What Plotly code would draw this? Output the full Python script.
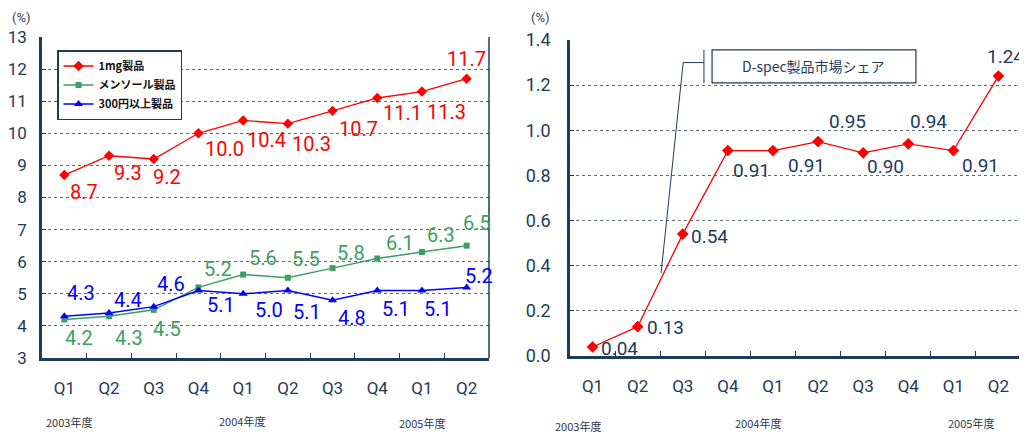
import plotly.graph_objects as go

# ---------------- data ----------------
quarters = ["Q1", "Q2", "Q3", "Q4", "Q1", "Q2", "Q3", "Q4", "Q1", "Q2"]
fiscal_years = ["2003年度", "2004年度", "2005年度"]
fiscal_year_start = [0, 4, 8]          # index of first quarter for each fiscal year

series_names = ["1mg製品", "メンソール製品", "300円以上製品"]
mg1 = [8.7, 9.3, 9.2, 10.0, 10.4, 10.3, 10.7, 11.1, 11.3, 11.7]
menthol = [4.2, 4.3, 4.5, 5.2, 5.6, 5.5, 5.8, 6.1, 6.3, 6.5]
yen300 = [4.3, 4.4, 4.6, 5.1, 5.0, 5.1, 4.8, 5.1, 5.1, 5.2]

dspec_name = "D-spec製品市場シェア"
dspec = [0.04, 0.13, 0.54, 0.91, 0.91, 0.95, 0.90, 0.94, 0.91, 1.24]

left_ticks = [3, 4, 5, 6, 7, 8, 9, 10, 11, 12, 13]
right_ticks = [0.0, 0.2, 0.4, 0.6, 0.8, 1.0, 1.2, 1.4]

# ---------------- layout helpers ----------------
# the page places the figure 8px from the top-left corner of the window
PAGE_OFF = 8
W, H = 1027 - PAGE_OFF, 435 - PAGE_OFF

def fx(px):   # window pixel column -> paper x
    return (px - PAGE_OFF) / W

def fy(py):   # window pixel row -> paper y
    return 1 - (py - PAGE_OFF) / H

NAVY = "#1F3A5A"
GRID = "#5C6B80"
RED = "#FF0000"
GREEN = "#3C9E62"
BLUE = "#0000FF"
NUM_FONT = "Roboto"
CJK_FONT = "Noto Sans CJK JP"

# label offsets in pixels (dx, dy; dy positive = downward)
off_mg1 = [(20, 17), (19, 17), (13, 18), (26, 16), (23, 20), (24, 20), (26, 18), (25, 15), (25, 20), (0, -20)]
off_menthol = [(15, 19), (20, 22), (13, 19), (20, -18), (20, -17), (18, -19), (18, -15), (23, -15), (19, -17), (10, -23)]
off_yen300 = [(17, -23), (19, -13), (17, -23), (23, 14), (26, 16), (19, 21), (19, 18), (19, 18), (16, 18), (12, -11)]
off_dspec = [(27, 2), (28, 1), (27, 2), (24, 20), (34, 15), (29, -20), (22, 14), (20, -22), (27, 15), (7, -20)]

xs = list(range(len(quarters)))

fig = go.Figure()

fig.add_trace(go.Scatter(x=xs, y=mg1, name=series_names[0], mode="lines+markers",
                         line=dict(color=RED, width=1.3),
                         marker=dict(symbol="diamond", size=8, color=RED),
                         xaxis="x", yaxis="y"))
fig.add_trace(go.Scatter(x=xs, y=menthol, name=series_names[1], mode="lines+markers",
                         line=dict(color=GREEN, width=1.5),
                         marker=dict(symbol="square", size=6, color=GREEN),
                         xaxis="x", yaxis="y"))
fig.add_trace(go.Scatter(x=xs, y=yen300, name=series_names[2], mode="lines+markers",
                         line=dict(color=BLUE, width=1.5),
                         marker=dict(symbol="triangle-up", size=8, color=BLUE),
                         xaxis="x", yaxis="y"))
fig.add_trace(go.Scatter(x=xs, y=dspec, name=dspec_name, mode="lines+markers",
                         line=dict(color=RED, width=1.3),
                         marker=dict(symbol="diamond", size=9, color=RED),
                         showlegend=False, xaxis="x2", yaxis="y2"))

annotations = []

def add_labels(vals, offs, color, fmt, xref, yref, size):
    for i, (v, (dx, dy)) in enumerate(zip(vals, offs)):
        annotations.append(dict(x=xs[i], y=v, xref=xref, yref=yref, text=fmt.format(v),
                                showarrow=False, xshift=dx, yshift=-dy,
                                xanchor="center", yanchor="middle",
                                font=dict(family=NUM_FONT, size=size, color=color)))

add_labels(mg1, off_mg1, RED, "{:.1f}", "x", "y", 20)
add_labels(menthol, off_menthol, GREEN, "{:.1f}", "x", "y", 20)
add_labels(yen300, off_yen300, BLUE, "{:.1f}", "x", "y", 20)
add_labels(dspec, off_dspec, NAVY, "{:.2f}", "x2", "y2", 19)

# fiscal-year labels under the axes (window pixel rows)
left_year_shift = [5, -1, 0]
left_year_row = [422, 421, 423]
right_year_shift = [-15, -15, 18]
right_year_row = [426, 423, 423]
for k, fyear in enumerate(fiscal_years):
    annotations.append(dict(x=fiscal_year_start[k], y=fy(left_year_row[k]), xref="x", yref="paper",
                            text=fyear, showarrow=False, xshift=left_year_shift[k],
                            xanchor="center", yanchor="middle",
                            font=dict(family=CJK_FONT, size=11, color="#2E3548")))
    annotations.append(dict(x=fiscal_year_start[k], y=fy(right_year_row[k]), xref="x2", yref="paper",
                            text=fyear, showarrow=False, xshift=right_year_shift[k],
                            xanchor="center", yanchor="middle",
                            font=dict(family=CJK_FONT, size=11, color="#2E3548")))

# (%) unit labels
for cx in (21, 540):
    annotations.append(dict(x=fx(cx), y=fy(8), xref="paper", yref="paper", text="(%)",
                            showarrow=False, xanchor="center", yanchor="top",
                            font=dict(family=NUM_FONT, size=13, color="#3A4556")))

# callout text
annotations.append(dict(x=4.91, y=1.283, xref="x2", yref="y2", text=dspec_name, showarrow=False,
                        xanchor="center", yanchor="middle",
                        font=dict(family=CJK_FONT, size=14, color=NAVY)))

shapes = [
    dict(type="line", xref="x domain", yref="y domain", x0=1, x1=1, y0=0, y1=1,
         line=dict(color=NAVY, width=1.5)),
    dict(type="line", xref="x2 domain", yref="y2 domain", x0=1, x1=1, y0=0, y1=1,
         line=dict(color=NAVY, width=2)),
    dict(type="rect", xref="x2", yref="y2", x0=2.65, x1=7.17, y0=1.21, y1=1.356,
         line=dict(color=NAVY, width=1.2), fillcolor="white"),
    dict(type="line", xref="x2", yref="y2", x0=2.47, x1=2.47, y0=1.21, y1=1.356,
         line=dict(color=NAVY, width=1)),
    dict(type="line", xref="x2", yref="y2", x0=2.47, x1=2.01, y0=1.30, y1=1.30,
         line=dict(color=NAVY, width=1)),
    dict(type="line", xref="x2", yref="y2", x0=2.01, x1=1.52, y0=1.30, y1=0.368,
         line=dict(color=NAVY, width=1)),
]

xaxis_common = dict(range=[-0.5, len(xs) - 0.5], tickmode="array", tickvals=xs, ticktext=quarters,
                    ticks="", showgrid=False, zeroline=False, showline=True,
                    linecolor=NAVY, linewidth=2.5, automargin=False,
                    tickfont=dict(family=NUM_FONT, size=17, color=NAVY),
                    ticklabelstandoff=13,
                    minor=dict(tickvals=[i + 0.5 for i in xs[:-1]], ticks="inside",
                               ticklen=5, tickcolor=NAVY, tickwidth=1, showgrid=False))
yaxis_common = dict(showgrid=True, gridcolor=GRID, griddash="dot", gridwidth=1,
                    zeroline=False, showline=True, linecolor=NAVY, linewidth=2.5,
                    ticks="inside", ticklen=4, tickcolor=NAVY, automargin=False)

fig.update_layout(
    width=W, height=H, autosize=False,
    margin=dict(l=0, r=0, t=0, b=0, pad=0, autoexpand=False),
    paper_bgcolor="white", plot_bgcolor="white",
    xaxis=dict(domain=[fx(42), fx(489)], anchor="y", **xaxis_common),
    yaxis=dict(domain=[fy(358), fy(37)], anchor="x", range=[3, 13],
               tickvals=left_ticks, ticklabelstandoff=9,
               tickfont=dict(family=NUM_FONT, size=17, color=NAVY), **yaxis_common),
    xaxis2=dict(domain=[fx(570), fx(1021)], anchor="y2", **xaxis_common),
    yaxis2=dict(domain=[fy(356), fy(40)], anchor="x2", range=[0, 1.4],
                tickvals=right_ticks, tickformat=".1f", ticklabelstandoff=13,
                tickfont=dict(family=NUM_FONT, size=18, color=NAVY), **yaxis_common),
    legend=dict(x=fx(57), y=fy(50), xanchor="left", yanchor="top",
                bgcolor="white", bordercolor=NAVY, borderwidth=1.5,
                font=dict(family=CJK_FONT, size=11, color="#111111", weight="bold"),
                tracegroupgap=0, itemwidth=30),
    annotations=annotations,
    shapes=shapes,
    showlegend=True,
)

fig.write_html("out.html")
